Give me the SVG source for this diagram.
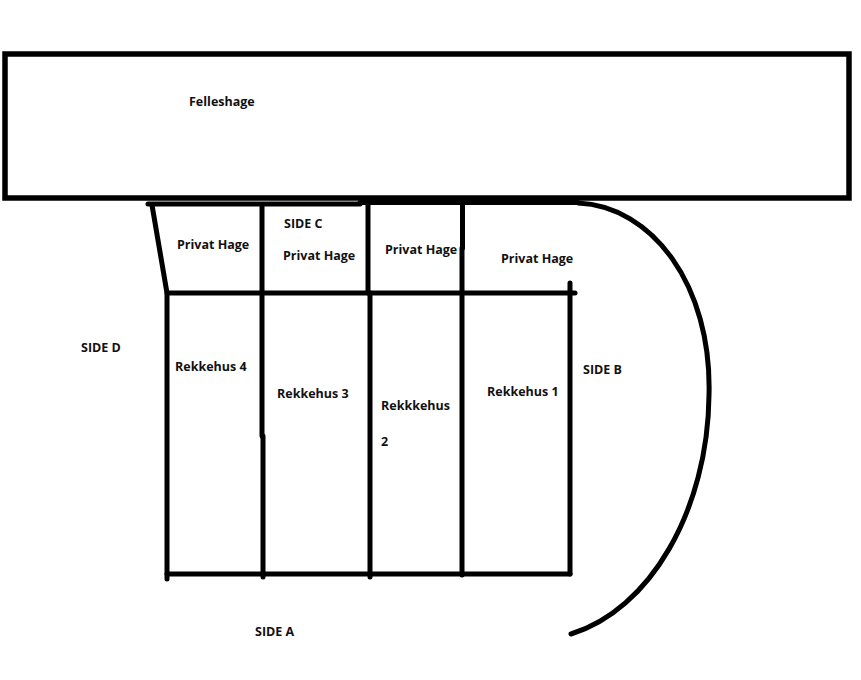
<svg xmlns="http://www.w3.org/2000/svg" width="861" height="680" viewBox="0 0 861 680">
<style>
.l{fill:none;stroke:#000;stroke-width:5;stroke-linecap:round;stroke-linejoin:round}
text{font-family:"Open Sans","Liberation Sans",sans-serif;font-size:12.5px;font-weight:700;fill:#111}
</style>
<rect width="861" height="680" fill="#fff"/>
<g id="connectors">
<path class="l" d="M148 204H360"/>
<path class="l" d="M360 202.500H578"/>
<path class="l" d="M578 203C652 206 712 285 709 395C708 510 650 610 571 634"/>
<path class="l" d="M152 205L167 293V579"/>
<path class="l" d="M167 293H575"/>
<path class="l" d="M167 574H570"/>
<path class="l" d="M570 283V574"/>
<path class="l" d="M262 205V436"/>
<path class="l" d="M263 436V577"/>
<path class="l" d="M368 204V293"/>
<path class="l" d="M370 293V577"/>
<path class="l" d="M462.500 204V248"/>
<path class="l" d="M462 248V575"/>
</g>
<g id="felleshage"><rect x="5" y="54" width="844" height="144" fill="none" stroke="#000" stroke-width="5.500"/><text x="189" y="106">Felleshage</text></g>
<g id="side-c"><text x="284" y="228">SIDE C</text></g>
<g id="hage-4"><text x="177" y="249">Privat Hage</text></g>
<g id="hage-3"><text x="283" y="260">Privat Hage</text></g>
<g id="hage-2"><text x="385" y="254">Privat Hage</text></g>
<g id="hage-1"><text x="501" y="263">Privat Hage</text></g>
<g id="side-d"><text x="81" y="352">SIDE D</text></g>
<g id="side-b"><text x="583" y="374">SIDE B</text></g>
<g id="side-a"><text x="255" y="636">SIDE A</text></g>
<g id="rekkehus-4"><text x="175" y="371">Rekkehus 4</text></g>
<g id="rekkehus-3"><text x="277" y="398">Rekkehus 3</text></g>
<g id="rekkehus-2"><text x="381" y="410">Rekkkehus</text><text x="381" y="446">2</text></g>
<g id="rekkehus-1"><text x="487" y="396">Rekkehus 1</text></g>
</svg>
